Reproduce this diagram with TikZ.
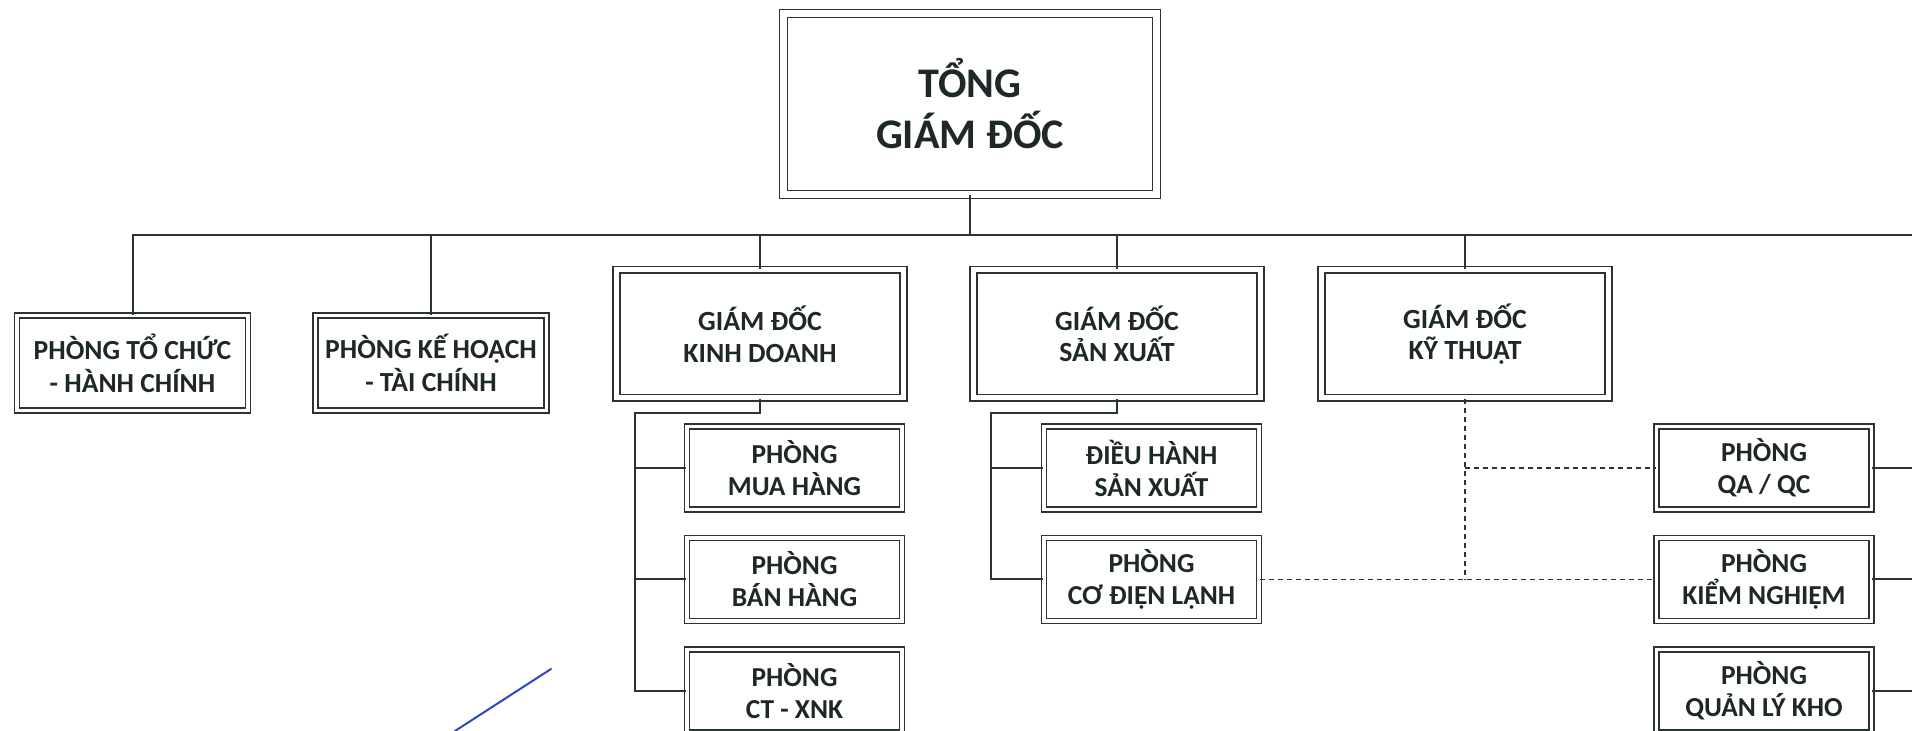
\documentclass[tikz,border=0pt]{standalone}
\usepackage{fontspec}
\setmainfont{Carlito}
\usetikzlibrary{positioning}
\definecolor{trait}{HTML}{2B3333}
\definecolor{encre}{HTML}{1E2828}
\definecolor{stylo}{HTML}{2F45C8}
\tikzset{
    cadre/.style={draw=trait, double, line width=0.17mm, double distance=0.33mm,
        inner sep=0pt, align=center, text=encre,
        font=\bfseries\fontsize{7.85}{9.3}\selectfont},
    petit/.style={cadre, minimum width=23.1mm, minimum height=9.5mm},
    chef/.style={cadre, double distance=0.5mm, minimum width=28.7mm, minimum height=12.8mm,
        font=\bfseries\fontsize{7.9}{9}\selectfont},
    sous/.style={cadre, minimum width=21.5mm, minimum height=8.3mm,
        font=\bfseries\fontsize{7.8}{9.1}\selectfont},
    lien/.style={draw=trait, line width=0.2mm},
    pointille/.style={draw=trait, line width=0.15mm, dash pattern=on 0.5mm off 0.4mm}
}

\begin{document}
\begin{tikzpicture}[x=0.1mm, y=-0.1mm]
	\useasboundingbox (0,0) rectangle (1912,731);
	\clip (0,0) rectangle (1912,731);

	\def\bus{235}
	\def\coude{413}
	\def\rA{468}
	\def\rB{579.5}
	\def\rC{691}

	% Tổng giám đốc
	\node[cadre, double distance=0.65mm, minimum width=37.3mm, minimum height=18.1mm,
		font=\bfseries\fontsize{12}{14.5}\selectfont] (tgd) at (970,104) {TỔNG\\GIÁM ĐỐC};

	% Premier niveau
	\node[petit] (tochuc) at (132.5,363) {PHÒNG TỔ CHỨC\\- HÀNH CHÍNH};
	\node[petit] (kehoach) at (431,363) {PHÒNG KẾ HOẠCH\\- TÀI CHÍNH};
	\node[chef] (kinhdoanh) at (760,334) {GIÁM ĐỐC\\KINH DOANH};
	\node[chef] (sanxuat) at (1117,334) {GIÁM ĐỐC\\SẢN XUẤT};
	\node[chef] (kythuat) at (1465,334) {GIÁM ĐỐC\\KỸ THUẬT};

	% Phòng sous chaque directeur
	\node[sous] (muahang) at (794.5,\rA) {PHÒNG\\MUA HÀNG};
	\node[sous] (banhang) at (794.5,\rB) {PHÒNG\\BÁN HÀNG};
	\node[sous] (ctxnk) at (794.5,\rC) {PHÒNG\\CT - XNK};
	\node[sous] (dieuhanh) at (1151.5,\rA) {ĐIỀU HÀNH\\SẢN XUẤT};
	\node[sous] (codien) at (1151.5,\rB) {PHÒNG\\CƠ ĐIỆN LẠNH};
	\node[sous] (qaqc) at (1764,\rA) {PHÒNG\\QA / QC};
	\node[sous] (kiemnghiem) at (1764,\rB) {PHÒNG\\KIỂM NGHIỆM};
	\node[sous] (kho) at (1764,\rC) {PHÒNG\\QUẢN LÝ KHO};

	% Barre horizontale
	\coordinate (niveau) at (0,\bus);
	\coordinate (droite) at (1912,\bus);
	\draw[lien] (tgd.south) -- (tgd.south |- niveau);
	\draw[lien] (tochuc.north) -- (tochuc.north |- niveau) -- (droite);
	\foreach \n in {kehoach, kinhdoanh, sanxuat, kythuat}
		\draw[lien] (\n.north) -- (\n.north |- niveau);

	% Rails verticaux
	\coordinate (railkd) at (635,\coude);
	\coordinate (railsx) at (991,\coude);
	\draw[lien] (kinhdoanh.south) |- (railkd) -- (railkd |- ctxnk.west) -- (ctxnk.west);
	\foreach \n in {muahang, banhang}
		\draw[lien] (railkd |- \n.west) -- (\n.west);
	\draw[lien] (sanxuat.south) |- (railsx) -- (railsx |- codien.west) -- (codien.west);
	\draw[lien] (railsx |- dieuhanh.west) -- (dieuhanh.west);

	% Liaisons en pointillé
	\draw[pointille] (kythuat.south) -- (kythuat.south |- kiemnghiem.west);
	\draw[pointille] (codien.east) -- (kiemnghiem.west);
	\draw[pointille] (kythuat.south |- qaqc.west) -- (qaqc.west);

	% Sorties à droite
	\foreach \n in {qaqc, kiemnghiem, kho}
		\draw[lien] (\n.east) -- (\n.east -| droite);

	% trait de stylo
	\draw[stylo, line width=0.2mm, line cap=round] (551,669) -- (455,731);

\end{tikzpicture}
\end{document}
